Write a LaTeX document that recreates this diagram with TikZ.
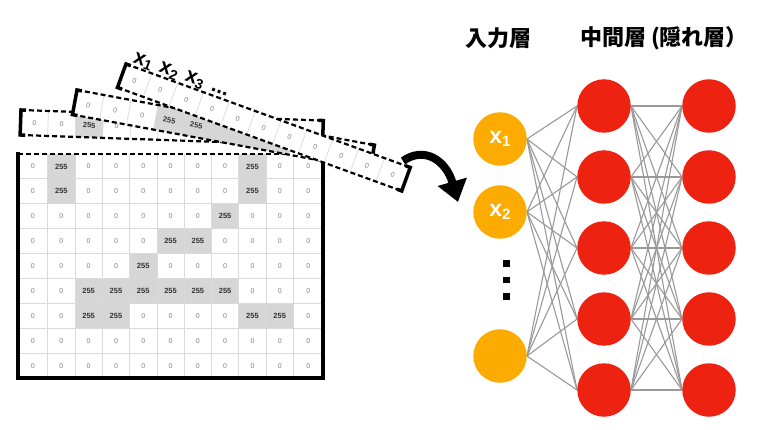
\documentclass[tikz,border=0pt]{standalone}
\usepackage{fontspec}
\setmainfont{Liberation Sans}
\newfontfamily\cjk{Noto Sans CJK JP}
\usetikzlibrary{arrows.meta,backgrounds}
\definecolor{inorange}{HTML}{FCAB00}
\definecolor{hidred}{HTML}{EE2211}
\definecolor{cellgray}{HTML}{D6D6D6}
\definecolor{gridline}{HTML}{DADADA}
\definecolor{zerotxt}{HTML}{808080}
\definecolor{darktxt}{HTML}{333333}
\definecolor{edgegray}{HTML}{999999}
\newcommand\xs[1]{x\raisebox{-3pt}{\fontsize{14}{14}\selectfont #1}}
\newcommand\xin[1]{{\fontsize{23}{23}\selectfont x}\raisebox{-3pt}{\fontsize{15}{15}\selectfont #1}}
% #1 id, #2 #3 top-left, #4 angle, #5 values, #6 number of cells whose text shows
\newcommand\drawstrip[6]{%
\begin{scope}[shift={(#2,#3)},rotate=#4]
\fill[white] (0,0) rectangle (302.5,25);
\foreach \v [count=\c] in {#5}{\ifnum\v=1 \fill[cellgray] ({27.5*(\c-1)},0) rectangle ({27.5*\c},25);\fi}
\foreach \k in {1,...,10}{\draw[gridline,line width=0.7pt] ({27.5*\k},0) -- ({27.5*\k},25);}
\foreach \v [count=\c] in {#5}{\ifnum\c<\numexpr#6+1\relax
  \ifnum\v=1 \node[txtff,transform shape] (#1-\c) at ({27.5*\c-13.75},13) {255};\else \node[txtzero,transform shape] (#1-\c) at ({27.5*\c-13.75},13) {0};\fi
  \fi}
\draw[dashline] (0,0) -- (302.5,0);
\draw[dashline] (0,25) -- (302.5,25);
\draw[bracketline] (5,0) -- (0,0) -- (0,25) -- (5,25);
\draw[bracketline] (297.5,0) -- (302.5,0) -- (302.5,25) -- (297.5,25);
\end{scope}}
\begin{document}
\begin{tikzpicture}[x=1pt,y=-1pt,
  dashline/.style={line width=2.2pt, dash pattern=on 5pt off 3pt},
  bracketline/.style={line width=3.5pt},
  txtzero/.style={font=\fontsize{7}{7}\selectfont, text=zerotxt, inner sep=0pt},
  txtff/.style={font=\fontsize{7.5}{7.5}\selectfont\bfseries, text=darktxt, inner sep=0pt},
  xlab/.style={font=\fontsize{21}{21}\selectfont\bfseries, inner sep=0pt},
  inp/.style={circle, fill=inorange, minimum size=53.5pt, inner sep=0pt, text=white, font=\bfseries},
  hid/.style={circle, fill=hidred, minimum size=53.5pt, inner sep=0pt},
  edge/.style={draw=edgegray, line width=1.1pt},
  head/.style={font=\cjk\bfseries\fontsize{22}{22}\selectfont, inner sep=0pt},
  vdot/.style={rectangle, fill=black, minimum size=6.5pt, inner sep=0pt},
]
\useasboundingbox (0,0) rectangle (770,430);
% grid
\foreach \row [count=\r] in {{0,1,0,0,0,0,0,0,1,0,0},{0,1,0,0,0,0,0,0,1,0,0},{0,0,0,0,0,0,0,1,0,0,0},{0,0,0,0,0,1,1,0,0,0,0},{0,0,0,0,1,0,0,0,0,0,0},{0,0,1,1,1,1,1,1,0,0,0},{0,0,1,1,0,0,0,0,1,1,0},{0,0,0,0,0,0,0,0,0,0,0},{0,0,0,0,0,0,0,0,0,0,0}}{
  \foreach \v [count=\c] in \row {
    \pgfmathsetmacro\xl{\c==1 ? 18 : 20.4+27.3*(\c-1)}
    \pgfmathsetmacro\xr{\c==11 ? 323 : 20.4+27.3*\c}
    \pgfmathsetmacro\yt{154+24.9*(\r-1)}
    \pgfmathsetmacro\yb{\yt+24.9}
    \ifnum\v=1
      \fill[cellgray] (\xl,\yt) rectangle (\xr,\yb);
      \node[txtff] (g-\r-\c) at ({(\xl+\xr)/2},{(\yt+\yb)/2}) {255};
    \else
      \node[txtzero] (g-\r-\c) at ({(\xl+\xr)/2},{(\yt+\yb)/2}) {0};
    \fi
  }
}
\foreach \k in {1,...,10}{\draw[gridline,line width=0.8pt] ({20.4+27.3*\k},154) -- ({20.4+27.3*\k},378);}
\foreach \k in {1,...,8}{\draw[gridline,line width=0.8pt] (18,{154+24.9*\k}) -- (323,{154+24.9*\k});}
\draw[bracketline] (18,152.5) -- (18,378) -- (323,378) -- (323,154);
\draw[dashline] (18,154) -- (323,154);
% strips
\drawstrip{sa}{21}{110}{-2}{0,0,1,0,0,0,0,0,0,0,0}{4}
\drawstrip{sb}{77}{90}{-10.5}{0,0,0,1,1,1,1,1,0,0,0}{5}
\drawstrip{sc}{126}{64}{-20}{0,0,0,0,0,0,0,0,0,0,0}{11}
\begin{scope}[shift={(126,64)},rotate=-20]
\node[xlab,anchor=base,transform shape] (l1) at (15,-4) {\xs{1}};
\node[xlab,anchor=base,transform shape] (l2) at (42.5,-4) {\xs{2}};
\node[xlab,anchor=base,transform shape] (l3) at (70,-4) {\xs{3}};
\node[xlab,anchor=base,transform shape] (l4) at (97,-4) {...};
\end{scope}
% arrow
\coordinate (arrS) at (403,161);
\coordinate (arrE) at (458,202);
\draw[line width=8pt,-{Triangle[length=21pt,width=29pt]}] (arrS) .. controls (424,146) and (446,160) .. (arrE);
% headings
\node[head] (h1) at (498,38) {入力層};
\node[head] (h2) at (664,38) {中間層 (隠れ層）};
% network
\node[inp] (i1) at (500,139) {\xin{1}};
\node[inp] (i2) at (500,212) {\xin{2}};
\node[inp] (i3) at (500,356) {};
\node[vdot] (d1) at (506.5,263.5) {};
\node[vdot] (d2) at (506.5,280) {};
\node[vdot] (d3) at (506.5,296.5) {};
\foreach \y [count=\i] in {106,177,248,319,390}{
  \node[hid] (a\i) at (604,\y) {};
  \node[hid] (b\i) at (709,\y) {};
}
\begin{scope}[on background layer]
\fill[white] (0,0) rectangle (770,430);
\foreach \j in {1,2,3}{\foreach \k in {1,...,5}{\draw[edge] (i\j.east) -- (a\k.west);}}
\foreach \j in {1,...,5}{\foreach \k in {1,...,5}{\draw[edge] (a\j.east) -- (b\k.west);}}
\end{scope}
\end{tikzpicture}
\end{document}
